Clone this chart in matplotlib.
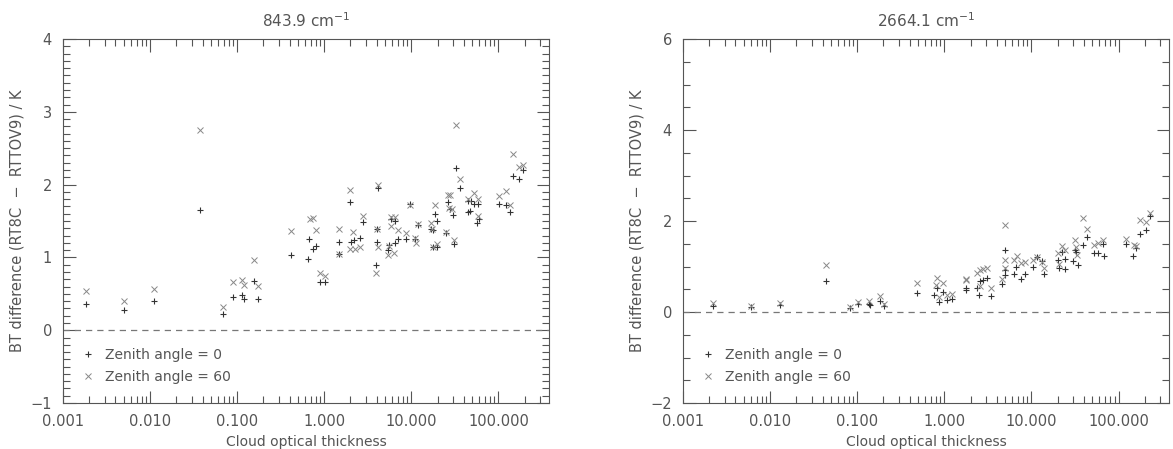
import numpy as np
import matplotlib
matplotlib.use("Agg")
import matplotlib.pyplot as plt
from matplotlib.ticker import FixedLocator, LogLocator, MultipleLocator, FormatStrFormatter, NullFormatter

# ---- 843.9 cm-1 panel ----
# zenith angle 0 ('+')
x843_z0 = [0.00186, 0.00506, 0.0111, 0.0378, 0.0695, 0.089, 0.115, 0.12, 0.156, 0.173,
           0.41, 0.667, 0.74, 0.795, 0.655, 0.90, 1.01, 1.46, 1.49, 1.95, 2.04, 2.17,
           2.54, 2.8, 4.09, 4.06, 4.0, 3.88, 5.33, 5.57, 5.82, 6.47, 6.47, 7.06, 8.65,
           9.7, 10.96, 11.9, 16.9, 17.7, 18.8, 19.8, 17.5, 19.8, 24.9, 26.2, 27.6, 30.0,
           31.0, 32.4, 36.3, 44.5, 48.6, 53.0, 58.0, 44.5, 47.7, 59.0, 56.0, 102.6, 122,
           134, 147, 171, 190]
y843_z0 = [0.365, 0.283, 0.397, 1.653, 0.228, 0.452, 0.489, 0.429, 0.676, 0.429,
           1.027, 1.25, 1.12, 1.16, 0.98, 0.658, 0.667, 1.205, 1.046, 1.767, 1.205, 1.233,
           1.265, 1.489, 1.959, 1.388, 1.21, 0.895, 1.096, 1.164, 1.53, 1.507, 1.20, 1.247, 1.247,
           1.735, 1.247, 1.447, 1.393, 1.379, 1.60, 1.498, 1.137, 1.137, 1.338, 1.763, 1.667, 1.589,
           1.187, 2.224, 1.954, 1.781, 1.781, 1.74, 1.74, 1.63, 1.64, 1.534, 1.466, 1.735, 1.726,
           1.621, 2.114, 2.078, 2.20]
# zenith angle 60 ('x')
x843_z60 = [0.00186, 0.00506, 0.0111, 0.0378, 0.0695, 0.089, 0.115, 0.12, 0.156, 0.173,
            0.41, 0.68, 0.74, 0.80, 0.90, 1.01, 1.46, 1.49, 1.95, 2.11, 2.0, 2.27,
            2.54, 2.8, 4.09, 4.06, 4.09, 3.88, 5.33, 5.57, 5.82, 6.47, 5.77, 6.4, 7.06,
            8.65, 9.7, 10.96, 11.2, 11.9, 16.9, 17.2, 18.8, 17.5, 19.8, 24.9, 26.2, 27.6,
            27.2, 29.1, 31.0, 32.4, 36.3, 52.6, 45.0, 58.0, 58.0, 102.6, 121, 134, 147,
            171, 190]
y843_z60 = [0.534, 0.40, 0.571, 2.753, 0.315, 0.658, 0.694, 0.616, 0.959, 0.612,
            1.365, 1.53, 1.54, 1.38, 0.785, 0.749, 1.393, 1.05, 1.922, 1.352, 1.114, 1.114,
            1.142, 1.566, 2.0, 1.397, 1.142, 0.785, 1.037, 1.151, 1.553, 1.553, 1.438, 1.064, 1.379,
            1.333, 1.726, 1.27, 1.20, 1.46, 1.47, 1.393, 1.721, 1.137, 1.183, 1.347, 1.858, 1.858,
            1.685, 1.667, 1.242, 2.817, 2.082, 1.89, 1.80, 1.80, 1.571, 1.845, 1.918, 1.721, 2.425,
            2.237, 2.265]

# ---- 2664.1 cm-1 panel ----
x2664_z0 = [0.00221, 0.00605, 0.013, 0.0442, 0.0817, 0.1026, 0.136, 0.14, 0.182, 0.204,
            0.483, 0.762, 0.818, 0.88, 0.956, 1.08, 1.21, 1.77, 1.77, 2.38, 2.56, 2.51,
            2.75, 3.05, 3.39, 4.64, 4.93, 4.93, 4.93, 6.25, 6.7, 7.65, 8.36, 10.4, 11.7,
            13.2, 14.1, 20.1, 20.5, 22.3, 24.0, 24.0, 31.7, 32.5, 30.0, 34.0, 39.0, 43.5,
            52.7, 58.7, 65.6, 68.0, 123, 147, 157, 175, 205, 228]
y2664_z0 = [0.139, 0.11, 0.154, 0.689, 0.095, 0.168, 0.183, 0.147, 0.234, 0.125,
            0.418, 0.381, 0.527, 0.22, 0.44, 0.256, 0.293, 0.527, 0.476, 0.527, 0.681, 0.366,
            0.711, 0.755, 0.344, 0.623, 1.355, 0.93, 0.82, 0.842, 1.0, 0.733, 0.842, 0.989, 1.21,
            1.114, 0.828, 1.135, 0.974, 1.319, 1.165, 0.952, 1.37, 1.32, 1.114, 1.026, 1.465, 1.648,
            1.304, 1.304, 1.50, 1.223, 1.487, 1.238, 1.414, 1.722, 1.795, 2.103]
x2664_z60 = [0.00221, 0.00605, 0.013, 0.0442, 0.0817, 0.1026, 0.136, 0.182, 0.204,
             0.483, 0.818, 0.796, 0.877, 0.956, 1.08, 1.21, 1.77, 1.77, 2.38, 2.56, 2.56,
             2.79, 3.1, 3.39, 4.64, 4.93, 4.93, 4.93, 6.25, 6.89, 7.65, 8.36, 10.4, 11.7,
             13.2, 14.1, 20.1, 20.5, 22.3, 24.0, 31.7, 32.5, 33.5, 39.0, 43.5,
             52.7, 58.7, 65.6, 123, 152, 158, 175, 205, 228]
y2664_z60 = [0.198, 0.139, 0.198, 1.033, 0.117, 0.22, 0.249, 0.352, 0.183,
             0.637, 0.74, 0.586, 0.33, 0.637, 0.374, 0.388, 0.733, 0.696, 0.857, 0.916, 0.564,
             0.938, 0.974, 0.527, 0.718, 1.912, 1.135, 0.974, 1.135, 1.23, 1.084, 1.10, 1.15, 1.21,
             1.10, 0.974, 1.297, 1.062, 1.443, 1.355, 1.575, 1.43, 1.245, 2.059, 1.832,
             1.465, 1.524, 1.575, 1.612, 1.48, 1.443, 2.015, 1.978, 2.176]

xticks = [0.001, 0.01, 0.1, 1, 10, 100]
xlim = (0.001, 380)

grey = "#555555"
plt.rcParams["font.family"] = "DejaVu Sans"
plt.rcParams["font.size"] = 10

fig = plt.figure(figsize=(11.73, 4.49), dpi=100)
ax1 = fig.add_axes([0.0537, 0.1024, 0.4143, 0.8107])
ax2 = fig.add_axes([0.5823, 0.1024, 0.4143, 0.8107])

panels = [
    (ax1, x843_z0, y843_z0, x843_z60, y843_z60, "843.9 cm$^{-1}$", (-1, 4), 1, 0.1),
    (ax2, x2664_z0, y2664_z0, x2664_z60, y2664_z60, "2664.1 cm$^{-1}$", (-2, 6), 2, 0.5),
]

for ax, xa, ya, xb, yb, title, ylim, ymaj, ymin in panels:
    ax.plot(xa, ya, linestyle="none", marker="+", markersize=5, mew=0.8,
            color="#333333", label="Zenith angle = 0")
    ax.plot(xb, yb, linestyle="none", marker="x", markersize=4.5, mew=0.7,
            color="#888888", label="Zenith angle = 60")
    ax.axhline(0, color="#777777", lw=0.9, ls=(0, (5, 4)))
    ax.set_xscale("log")
    ax.set_xlim(*xlim)
    ax.set_ylim(*ylim)
    ax.xaxis.set_major_locator(FixedLocator(xticks))
    ax.xaxis.set_major_formatter(FormatStrFormatter("%.3f"))
    ax.xaxis.set_minor_locator(LogLocator(base=10, subs=np.arange(2, 10), numticks=20))
    ax.xaxis.set_minor_formatter(NullFormatter())
    ax.yaxis.set_major_locator(MultipleLocator(ymaj))
    ax.yaxis.set_minor_locator(MultipleLocator(ymin))
    ax.tick_params(which="both", direction="in", top=True, right=True,
                   colors=grey, labelcolor=grey, labelsize=10.5, width=0.8)
    ax.tick_params(which="major", length=9, pad=8)
    ax.tick_params(which="minor", length=5)
    for s in ax.spines.values():
        s.set_color(grey)
        s.set_linewidth(0.8)
    ax.set_title(title, color=grey, fontsize=11, pad=9)
    ax.set_xlabel("Cloud optical thickness", color=grey, fontsize=10)
    ax.set_ylabel("BT difference (RT8C  \u2212  RTTOV9) / K", color=grey, fontsize=10.5)
    leg = ax.legend(loc="lower left", bbox_to_anchor=(0.012, 0.018), frameon=False,
                    handlelength=1.0, handletextpad=0.7, labelspacing=0.6, fontsize=10)
    for t in leg.get_texts():
        t.set_color(grey)

fig.savefig("out.png", dpi=100)
